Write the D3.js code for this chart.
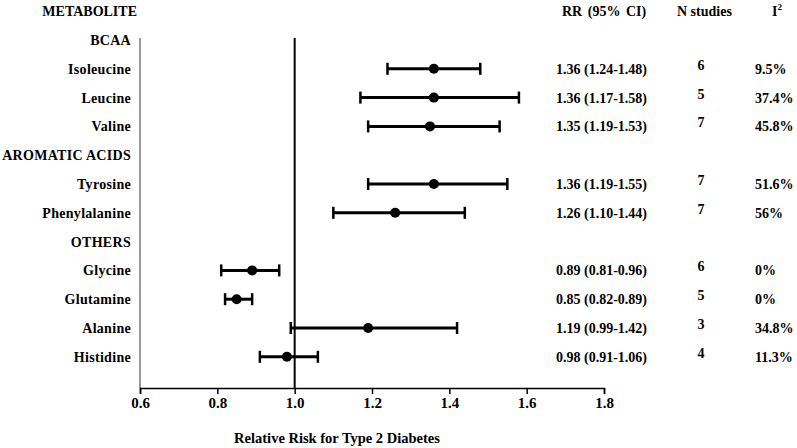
<!DOCTYPE html>
<html><head><meta charset="utf-8">
<script src="https://cdn.jsdelivr.net/npm/d3@7"></script>
<style>body{margin:0;background:#fff}svg{display:block}text{font-family:"Liberation Serif","Times New Roman",serif;font-weight:bold;fill:#000}</style>
</head><body>
<svg id="c" width="797" height="448"></svg>
<script>
const rowLabels = ["BCAA","Isoleucine","Leucine","Valine","AROMATIC ACIDS","Tyrosine","Phenylalanine","OTHERS","Glycine","Glutamine","Alanine","Histidine"];
const isGroup   = [true,false,false,false,true,false,false,true,false,false,false,false];
const rr        = [null,1.36,1.36,1.35,null,1.36,1.26,null,0.89,0.85,1.19,0.98];
const lower     = [null,1.24,1.17,1.19,null,1.19,1.10,null,0.81,0.82,0.99,0.91];
const upper     = [null,1.48,1.58,1.53,null,1.55,1.44,null,0.96,0.89,1.42,1.06];
const nStudies  = [null,6,5,7,null,7,7,null,6,5,3,4];
const i2        = [null,"9.5%","37.4%","45.8%",null,"51.6%","56%",null,"0%","0%","34.8%","11.3%"];
const xTicks    = [0.6,0.8,1.0,1.2,1.4,1.6,1.8];
const refValue  = 1.0;

const svg = d3.select("#c");
const x = d3.scaleLinear().domain([0.6,1.8]).range([140,604]);
const y = d3.scalePoint().domain(rowLabels).range([40,356.8]);
const yTop = 38, yBase = 388;

// left axis (gray)
svg.append("line").attr("x1",x(0.6)).attr("x2",x(0.6)).attr("y1",yTop).attr("y2",yBase)
  .attr("stroke","#777").attr("stroke-width",1.5);
// x axis
const xa = svg.append("g").attr("transform",`translate(0,${yBase})`)
  .call(d3.axisBottom(x).tickValues(xTicks).tickFormat(d3.format(".1f")).tickSizeOuter(0).tickSize(6));
xa.select(".domain").attr("stroke","#000").attr("stroke-width",1.5);
xa.selectAll(".tick line").attr("stroke","#000").attr("stroke-width",1.5);
xa.selectAll(".tick text").attr("font-size",15).attr("font-family","Liberation Serif").attr("font-weight","bold").attr("fill","#000").attr("dy","0.74em");

// reference line
svg.append("line").attr("x1",x(refValue)).attr("x2",x(refValue)).attr("y1",yTop).attr("y2",yBase)
  .attr("stroke","#000").attr("stroke-width",2);

// row labels
svg.append("g").selectAll("text").data(rowLabels).join("text")
  .attr("x",131).attr("y",d=>y(d)).attr("dy","0.35em").attr("text-anchor","end")
  .attr("font-size",14).attr("letter-spacing","0.3px").text(d=>d);

const rows = rowLabels.map((d,i)=>({label:d,rr:rr[i],lo:lower[i],hi:upper[i],n:nStudies[i],i2:i2[i]})).filter(d=>d.rr!==null);

const g = svg.append("g");
g.selectAll(".ci").data(rows).join("line").attr("x1",d=>x(d.lo)).attr("x2",d=>x(d.hi))
  .attr("y1",d=>y(d.label)).attr("y2",d=>y(d.label)).attr("stroke","#000").attr("stroke-width",3);
g.selectAll(".capl").data(rows).join("line").attr("x1",d=>x(d.lo)).attr("x2",d=>x(d.lo))
  .attr("y1",d=>y(d.label)-6).attr("y2",d=>y(d.label)+6).attr("stroke","#000").attr("stroke-width",2.5);
g.selectAll(".capr").data(rows).join("line").attr("x1",d=>x(d.hi)).attr("x2",d=>x(d.hi))
  .attr("y1",d=>y(d.label)-6).attr("y2",d=>y(d.label)+6).attr("stroke","#000").attr("stroke-width",2.5);
g.selectAll("circle").data(rows).join("circle").attr("cx",d=>x(d.rr)).attr("cy",d=>y(d.label)).attr("r",5).attr("fill","#000");

// table columns
const fmt = d3.format(".2f");
svg.append("g").selectAll("text").data(rows).join("text")
  .attr("x",556).attr("y",d=>y(d.label)).attr("dy","0.35em").attr("font-size",14)
  .text(d=>`${fmt(d.rr)} (${fmt(d.lo)}-${fmt(d.hi)})`);
svg.append("g").selectAll("text").data(rows).join("text")
  .attr("x",701).attr("y",d=>y(d.label)-4).attr("dy","0.35em").attr("text-anchor","middle").attr("font-size",14)
  .text(d=>d.n);
svg.append("g").selectAll("text").data(rows).join("text")
  .attr("x",755).attr("y",d=>y(d.label)).attr("dy","0.35em").attr("font-size",14)
  .text(d=>d.i2);

// headers
svg.append("text").attr("x",137).attr("y",16).attr("text-anchor","end").attr("font-size",14).text("METABOLITE");
svg.append("text").attr("x",562).attr("y",16).attr("font-size",14).attr("word-spacing","2px").text("RR (95% CI)");
svg.append("text").attr("x",677).attr("y",16).attr("font-size",14).text("N studies");
const ih = svg.append("text").attr("x",772).attr("y",16).attr("font-size",14);
ih.append("tspan").text("I");
ih.append("tspan").attr("dy",-6).attr("font-size",9).text("2");

// x title
svg.append("text").attr("x",337).attr("y",443).attr("text-anchor","middle").attr("font-size",14.5).text("Relative Risk for Type 2 Diabetes");
</script>
</body></html>
